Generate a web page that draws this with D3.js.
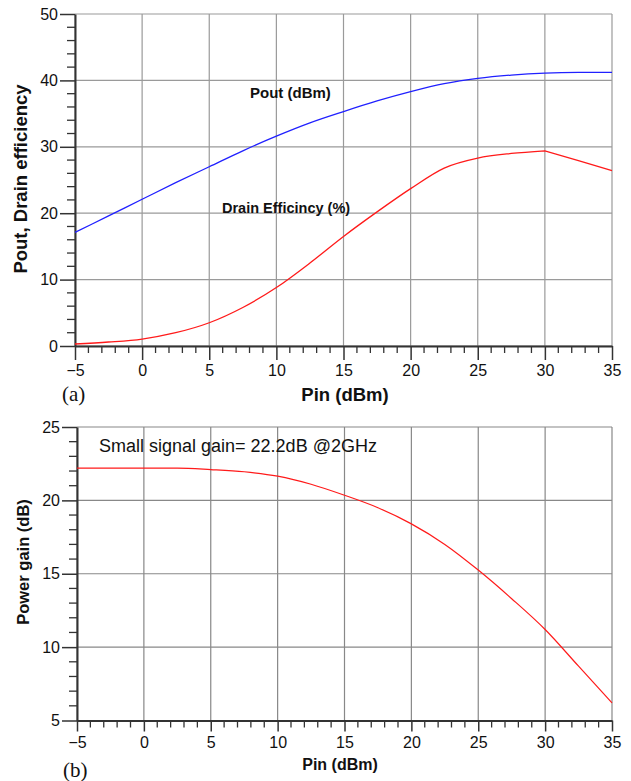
<!DOCTYPE html>
<meta charset="utf-8">
<script src="https://d3js.org/d3.v7.min.js"></script>
<style>
  body { margin: 0; background: #fff; }
  text { font-family: "Liberation Sans", Arial, sans-serif; fill: #111; }
</style>
<div id="chart"></div>
<script>

// values
const pin = [-5, -2.5, 0, 2.5, 5, 7.5, 10, 12.5, 15, 17.5, 20, 22.5, 25, 27.5, 30, 32.5, 35];
const pout = [17.1, 19.6, 22.1, 24.6, 27.0, 29.4, 31.6, 33.6, 35.3, 36.9, 38.3, 39.5, 40.3, 40.8, 41.1, 41.2, 41.2];
const drainEff = [0.3, 0.6, 1.05, 2.0, 3.5, 5.8, 8.8, 12.5, 16.5, 20.2, 23.7, 26.8, 28.3, 29.0, 29.4, 27.9, 26.4];
const gain = [22.2, 22.2, 22.2, 22.2, 22.1, 21.95, 21.65, 21.1, 20.35, 19.5, 18.4, 17.0, 15.25, 13.3, 11.2, 8.7, 6.2];

const xTicks = [-5, 0, 5, 10, 15, 20, 25, 30, 35];
const yTicksA = [0, 10, 20, 30, 40, 50];
const yTicksB = [5, 10, 15, 20, 25];

const svg = d3.select("#chart")
  .append("svg")
    .attr("width", 631)
    .attr("height", 781);

// draws one panel: grid, axes, minor ticks
function panel(opt) {
  const x = d3.scaleLinear().domain([-5, 35]).range([opt.left, opt.right]);
  const y = d3.scaleLinear().domain(opt.yDomain).range([opt.bottom, opt.top]);
  const g = svg.append("g");

  // grid
  g.selectAll(".vgrid").data(xTicks).join("line")
    .attr("x1", d => x(d)).attr("x2", d => x(d))
    .attr("y1", opt.top).attr("y2", opt.bottom)
    .attr("stroke", opt.gridColor).attr("stroke-width", 1.2);
  g.selectAll(".hgrid").data(opt.yTicks).join("line")
    .attr("x1", opt.left).attr("x2", opt.right)
    .attr("y1", d => y(d)).attr("y2", d => y(d))
    .attr("stroke", opt.gridColor).attr("stroke-width", 1.2);

  // minor ticks
  const xMinor = d3.range(-5, 35.01, 1).filter(v => v % 5 !== 0);
  g.selectAll(".xminor").data(xMinor).join("line")
    .attr("x1", d => x(d)).attr("x2", d => x(d))
    .attr("y1", opt.bottom).attr("y2", opt.bottom + 7)
    .attr("stroke", "#333").attr("stroke-width", 1.3);
  const yMinor = d3.range(opt.yDomain[0], opt.yDomain[1] + 0.01, opt.yMinorStep)
    .filter(v => !opt.yTicks.includes(Math.round(v * 100) / 100));
  g.selectAll(".yminor").data(yMinor).join("line")
    .attr("x1", opt.left - 8).attr("x2", opt.left)
    .attr("y1", d => y(d)).attr("y2", d => y(d))
    .attr("stroke", "#333").attr("stroke-width", 1.3);

  // x axis
  const xAxis = g.append("g")
    .attr("transform", `translate(0,${opt.bottom})`)
    .call(d3.axisBottom(x).tickValues(xTicks).tickSize(opt.xTickLen).tickPadding(5).tickSizeOuter(0));
  xAxis.select(".domain").attr("stroke", "#333").attr("stroke-width", 2);
  xAxis.selectAll(".tick line").attr("stroke", "#333").attr("stroke-width", 1.5);
  xAxis.selectAll(".tick text").attr("font-size", opt.tickFont).attr("fill", "#111");

  // y axis
  const yAxis = g.append("g")
    .attr("transform", `translate(${opt.left},0)`)
    .call(d3.axisLeft(y).tickValues(opt.yTicks).tickSize(15).tickPadding(2).tickSizeOuter(0));
  yAxis.select(".domain").attr("stroke", "#333").attr("stroke-width", 2);
  yAxis.selectAll(".tick line").attr("stroke", "#333").attr("stroke-width", 1.5);
  yAxis.selectAll(".tick text").attr("font-size", opt.tickFont).attr("fill", "#111");

  return { x, y, g };
}

// ---------- (a) ----------
const a = panel({
  left: 75, right: 612, top: 14, bottom: 346,
  yDomain: [0, 50], yTicks: yTicksA, yMinorStep: 2,
  gridColor: "#9a9a9a", xTickLen: 14, tickFont: 16
});

const smooth = d3.line().curve(d3.curveMonotoneX);
const straight = d3.line();
a.g.append("path")
  .attr("d", smooth(pin.map((p, i) => [a.x(p), a.y(pout[i])])))
  .attr("fill", "none").attr("stroke", "#2020ff").attr("stroke-width", 1.3);

// efficiency: smooth up to the peak at 30 dBm, straight after it
const effPts = pin.map((p, i) => [a.x(p), a.y(drainEff[i]), p]);
a.g.append("path")
  .attr("d", smooth(effPts.filter(d => d[2] <= 30)) + straight(effPts.filter(d => d[2] >= 30)).replace("M", "L"))
  .attr("fill", "none").attr("stroke", "#ff1a1a").attr("stroke-width", 1.3);

svg.append("text").attr("x", 250).attr("y", 98)
  .attr("font-size", 15).attr("font-weight", "bold").text("Pout (dBm)");
svg.append("text").attr("x", 222).attr("y", 213)
  .attr("font-size", 14.5).attr("font-weight", "bold").text("Drain Efficincy (%)");

svg.append("text").attr("x", 345).attr("y", 401)
  .attr("text-anchor", "middle").attr("font-size", 18.5).attr("font-weight", "bold")
  .text("Pin (dBm)");
svg.append("text")
  .attr("transform", "translate(27,179) rotate(-90)")
  .attr("text-anchor", "middle").attr("font-size", 18.5).attr("font-weight", "bold")
  .text("Pout, Drain efficiency");
svg.append("text").attr("x", 62).attr("y", 401)
  .attr("font-family", "Liberation Serif, Times New Roman, serif").attr("font-size", 21)
  .style("font-family", "'Liberation Serif', 'Times New Roman', serif")
  .text("(a)");

// ---------- (b) ----------
const b = panel({
  left: 77, right: 612, top: 427, bottom: 720.5,
  yDomain: [5, 25], yTicks: yTicksB, yMinorStep: 1,
  gridColor: "#888", xTickLen: 11, tickFont: 16
});

b.g.append("path")
  .attr("d", smooth(pin.map((p, i) => [b.x(p), b.y(gain[i])])))
  .attr("fill", "none").attr("stroke", "#ff1a1a").attr("stroke-width", 1.2);

svg.append("text").attr("x", 99).attr("y", 452)
  .attr("font-size", 18).text("Small signal gain= 22.2dB @2GHz");

svg.append("text").attr("x", 340).attr("y", 770)
  .attr("text-anchor", "middle").attr("font-size", 16).attr("font-weight", "bold")
  .text("Pin (dBm)");
svg.append("text")
  .attr("transform", "translate(29,562) rotate(-90)")
  .attr("text-anchor", "middle").attr("font-size", 16.5).attr("font-weight", "bold")
  .text("Power gain (dB)");
svg.append("text").attr("x", 63).attr("y", 777)
  .attr("font-size", 21)
  .style("font-family", "'Liberation Serif', 'Times New Roman', serif")
  .text("(b)");

</script>
